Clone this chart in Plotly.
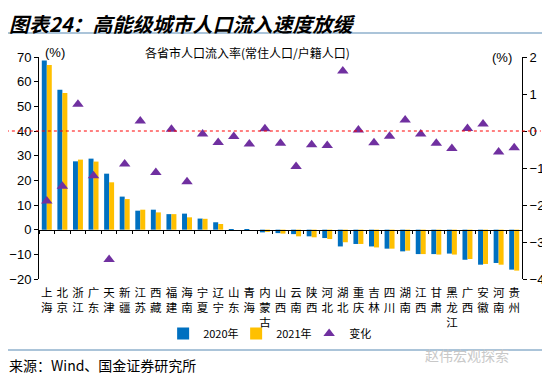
import plotly.graph_objects as go

provinces = ["上海", "北京", "浙江", "广东", "天津", "新疆", "江苏", "西藏", "福建", "海南",
             "宁夏", "辽宁", "山东", "青海", "内蒙古", "山西", "云南", "陕西", "河北", "湖北",
             "重庆", "吉林", "四川", "湖南", "江西", "甘肃", "黑龙江", "广西", "安徽", "河南", "贵州"]
rate_2020 = [68.6, 56.7, 27.7, 28.8, 22.7, 13.4, 7.7, 8.1, 6.3, 6.5,
             4.5, 3.0, 0.1, 0.1, -1.1, -1.4, -1.8, -2.7, -3.4, -6.8,
             -5.8, -6.8, -7.7, -8.8, -9.9, -9.9, -9.7, -12.2, -14.2, -13.5, -16.2]
rate_2021 = [66.8, 55.4, 28.4, 27.6, 19.2, 12.4, 8.1, 7.0, 6.3, 5.0,
             4.4, 2.3, 0.0, 0.0, -0.9, -1.6, -2.7, -3.1, -3.8, -5.1,
             -5.8, -7.2, -7.7, -8.5, -9.9, -10.1, -10.1, -11.9, -13.9, -14.2, -16.6]
change = [-1.89, -1.49, 0.72, -1.21, -3.47, -0.89, 0.27, -1.12, 0.05, -1.37,
          -0.08, -0.31, -0.15, -0.35, 0.06, -0.33, -0.96, -0.37, -0.39, 1.62,
          0.03, -0.32, -0.14, 0.30, -0.08, -0.33, -0.47, 0.07, 0.19, -0.57, -0.45]

tick_text = ["<br>".join(list(p)) for p in provinces]

fig = go.Figure()
fig.add_trace(go.Bar(x=provinces, y=rate_2020, name="2020年", marker_color="#0070C0",
                     marker_line_width=0))
fig.add_trace(go.Bar(x=provinces, y=rate_2021, name="2021年", marker_color="#FFC000",
                     marker_line_width=0))
fig.add_trace(go.Scatter(x=provinces, y=change, name="变化", mode="markers", yaxis="y2",
                         marker=dict(symbol="triangle-up", size=10, color="#7030A0")))

font_cjk = "Noto Sans CJK SC"

fig.update_layout(
    width=542, height=372,
    margin=dict(l=31, r=28, t=49, b=101, autoexpand=False),
    paper_bgcolor="white", plot_bgcolor="white",
    barmode="group", bargap=0.36, bargroupgap=0,
    font=dict(family="Liberation Sans, Arial", size=13, color="black"),
    showlegend=True,
    legend=dict(orientation="h", x=0.257, y=-0.245, xanchor="left", yanchor="middle",
                font=dict(family=font_cjk, size=11), itemwidth=30, entrywidth=28,
                traceorder="normal", bgcolor="rgba(0,0,0,0)"),
    xaxis=dict(type="category", categoryorder="array", categoryarray=provinces,
               tickvals=provinces, ticktext=tick_text, tickangle=0, automargin=False,
               anchor="free", position=20/90, showline=True, linecolor="black", linewidth=1,
               ticks="outside", tickson="boundaries", ticklen=3, tickcolor="black",
               ticklabelstandoff=53, showgrid=False, zeroline=False,
               tickfont=dict(family=font_cjk, size=11.5), range=[-0.5, 30.5]),
    yaxis=dict(range=[-20, 70], dtick=10, showline=True, linecolor="black", linewidth=1,
               ticks="outside", ticklen=4, tickcolor="black", showgrid=False, zeroline=False,
               automargin=False, tickfont=dict(size=13)),
    yaxis2=dict(range=[-4, 2], dtick=1, overlaying="y", side="right", anchor="x",
                showline=True, linecolor="black", linewidth=1, ticks="outside", ticklen=4,
                tickcolor="black", showgrid=False, zeroline=False, automargin=False,
                tickfont=dict(size=13)),
)

# reference line (left 40 / right 0)
fig.add_shape(type="line", xref="paper", yref="y", x0=-0.081, x1=1.039, y0=40, y1=40,
              line=dict(color="#FF0000", width=1, dash="dot"))
# separators
fig.add_shape(type="line", xref="paper", yref="paper", x0=-0.09, x1=1.07, y0=1.108, y1=1.108,
              line=dict(color="#8FB0CC", width=1.5))
fig.add_shape(type="line", xref="paper", yref="paper", x0=-0.09, x1=1.07, y0=-0.32, y1=-0.32,
              line=dict(color="#8FB0CC", width=1.5))

ann = [
    dict(text="<b><i>图表24：高能级城市人口流入速度放缓</i></b>", x=-0.0642, y=1.153,
         xanchor="left", yanchor="middle", font=dict(family=font_cjk, size=20, color="black")),
    dict(text="各省市人口流入率(常住人口/户籍人口)", x=0.431, y=1.0225, xanchor="center",
         yanchor="middle", font=dict(family=font_cjk, size=12, color="black")),
    dict(text="(%)", x=0.033, y=1.0225, xanchor="center", yanchor="middle",
         font=dict(size=13, color="black")),
    dict(text="(%)", x=0.9586, y=1.0, xanchor="center", yanchor="middle",
         font=dict(size=13, color="black")),
    dict(text="来源：Wind、国金证券研究所", x=-0.0642, y=-0.387, xanchor="left",
         yanchor="middle", font=dict(family=font_cjk, size=14, color="black")),
    dict(text="赵伟宏观探索", x=0.886, y=-0.342, xanchor="center", yanchor="middle",
         font=dict(family=font_cjk, size=14, color="#C8C8C8")),
]
for a in ann:
    fig.add_annotation(xref="paper", yref="paper", showarrow=False, borderpad=0, **a)

fig.write_html("out.html")
